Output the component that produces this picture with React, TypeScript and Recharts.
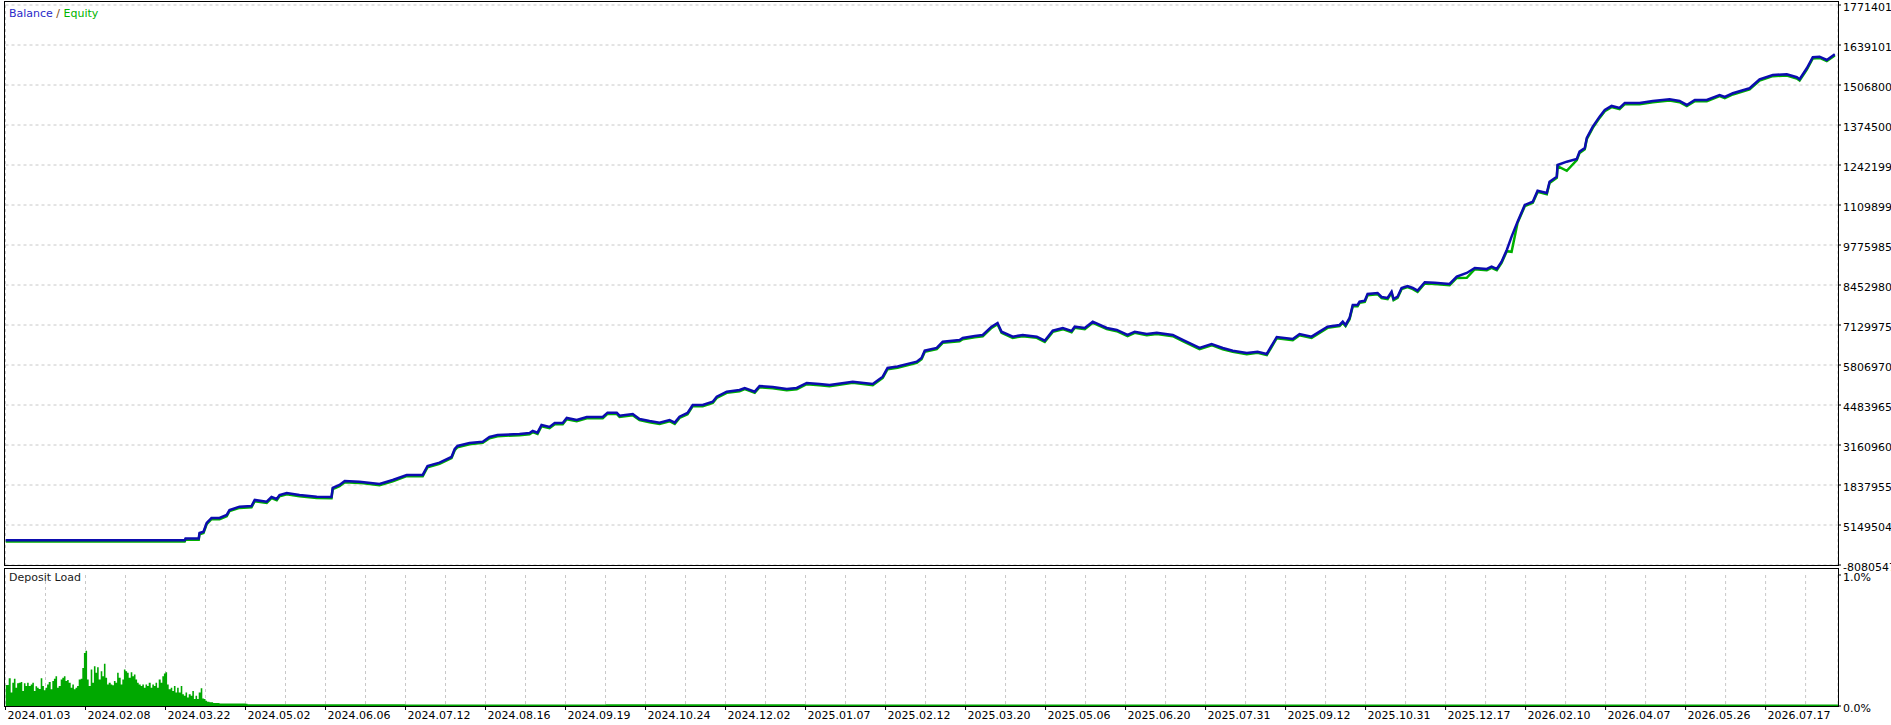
import React from 'react';
import { LineChart, Line, XAxis, YAxis, CartesianGrid, AreaChart, Area } from 'recharts';

const FONT = '"DejaVu Sans", Verdana, sans-serif';

// ---- data -----------------------------------------------------------
const trades = [
  0, 448, 450, 483, 485, 495, 503, 515, 535, 553,
  560, 585, 615, 623, 653, 665, 678, 685, 703, 735,
  778, 815, 818, 835, 848, 885, 935, 968, 1003, 1043,
  1055, 1085, 1115, 1123, 1130, 1160, 1193, 1210, 1230, 1285,
  1310, 1318, 1330, 1340, 1360, 1373, 1393, 1403, 1428, 1453,
  1493, 1505, 1528, 1535, 1568, 1585, 1610, 1635, 1660, 1673,
  1685, 1705, 1718, 1743, 1768, 1778, 1803, 1835, 1848, 1873,
  1885, 1918, 1953, 1978, 2003, 2035, 2060, 2118, 2168, 2193,
  2205, 2230, 2278, 2290, 2298, 2328, 2343, 2385, 2393, 2423,
  2443, 2465, 2480, 2490, 2518, 2543, 2578, 2598, 2618, 2643,
  2665, 2673, 2698, 2718, 2753, 2778, 2805, 2823, 2853, 2878,
  2918, 2943, 2985, 3015, 3043, 3068, 3103, 3130, 3153, 3178,
  3218, 3235, 3265, 3285, 3305, 3335, 3343, 3350, 3360, 3368,
  3380, 3385, 3398, 3405, 3430, 3440, 3455, 3465, 3470, 3480,
  3490, 3505, 3518, 3530, 3548, 3573, 3610, 3628, 3653, 3673,
  3703, 3715, 3728, 3740, 3753, 3765, 3780, 3798, 3818, 3830,
  3853, 3860, 3878, 3880, 3903, 3928, 3935, 3948, 3953, 3968,
  3985, 3998, 4015, 4035, 4048, 4085, 4118, 4160, 4185, 4203,
  4223, 4253, 4285, 4298, 4318, 4360, 4385, 4418, 4453, 4478,
  4485, 4503, 4518, 4535, 4553, 4573,
];

const balance = [
  100000, 100000, 650000, 650000, 2510000, 2940000, 5820000, 7470000, 7470000, 8470000,
  10120000, 11210000, 11440000, 13430000, 12870000, 14420000, 13760000, 15080000, 15740000, 15080000,
  14520000, 14420000, 17400000, 18390000, 19710000, 19480000, 18720000, 20040000, 21700000, 21700000,
  24670000, 25770000, 27650000, 30300000, 31290000, 32280000, 32710000, 34270000, 34930000, 35260000,
  35590000, 36250000, 35690000, 38230000, 37570000, 38900000, 38900000, 40550000, 39890000, 40880000,
  40880000, 42300000, 42300000, 41310000, 41870000, 40220000, 39560000, 39000000, 39890000, 39000000,
  40980000, 42200000, 44850000, 44850000, 45940000, 47590000, 49250000, 49810000, 50470000, 49250000,
  51130000, 50800000, 50140000, 50470000, 52130000, 51800000, 51470000, 52560000, 51800000, 54210000,
  57090000, 57580000, 59170000, 60400000, 62810000, 63700000, 65790000, 66350000, 67010000, 67670000,
  68000000, 70750000, 71970000, 69090000, 67440000, 68000000, 67440000, 66120000, 69420000, 70320000,
  69320000, 70750000, 70320000, 72400000, 70320000, 69650000, 68000000, 69090000, 68330000, 68760000,
  68000000, 66350000, 63700000, 65020000, 63700000, 62810000, 62050000, 62480000, 61720000, 67340000,
  66680000, 68330000, 67440000, 69090000, 70750000, 71310000, 72400000, 71310000, 73630000, 77920000,
  77920000, 79020000, 79350000, 81560000, 81890000, 80570000, 80240000, 82320000, 79910000, 80670000,
  83550000, 84210000, 83550000, 82650000, 85430000, 85300000, 84870000, 87280000, 88510000, 90160000,
  89830000, 90590000, 89830000, 92250000, 96120000, 100520000, 105480000, 111000000, 112090000, 115730000,
  114970000, 118710000, 120360000, 124230000, 125320000, 126210000, 128630000, 129850000, 133160000, 136900000,
  140210000, 142430000, 143750000, 143090000, 144740000, 144740000, 145400000, 145960000, 145400000, 144080000,
  145730000, 145730000, 147380000, 146720000, 147950000, 149600000, 152580000, 154000000, 154230000, 153240000,
  152580000, 156210000, 159850000, 160050000, 158960000, 160840000,
];

const equity = [
  -300000, -300000, 250000, 250000, 2110000, 2540000, 5420000, 7070000, 7070000, 8070000,
  9720000, 10810000, 11040000, 13030000, 12470000, 14020000, 13360000, 14680000, 15340000, 14680000,
  14120000, 14020000, 17000000, 17990000, 19310000, 19080000, 18320000, 19640000, 21300000, 21300000,
  24270000, 25370000, 27250000, 29900000, 30890000, 31880000, 32310000, 33870000, 34530000, 34860000,
  35190000, 35850000, 35290000, 37830000, 37170000, 38500000, 38500000, 40150000, 39490000, 40480000,
  40480000, 41900000, 41900000, 40910000, 41470000, 39820000, 39160000, 38600000, 39490000, 38600000,
  40580000, 41800000, 44450000, 44450000, 45540000, 47190000, 48850000, 49410000, 50070000, 48850000,
  50730000, 50400000, 49740000, 50070000, 51730000, 51400000, 51070000, 52160000, 51400000, 53810000,
  56690000, 57180000, 58770000, 60000000, 62410000, 63300000, 65390000, 65950000, 66610000, 67270000,
  67600000, 70350000, 71570000, 68690000, 67040000, 67600000, 67040000, 65720000, 69020000, 69920000,
  68920000, 70350000, 69920000, 72000000, 69920000, 69250000, 67600000, 68690000, 67930000, 68360000,
  67600000, 65950000, 63300000, 64620000, 63300000, 62410000, 61650000, 62080000, 61320000, 66940000,
  66280000, 67930000, 67040000, 68690000, 70350000, 70910000, 72000000, 70910000, 73230000, 77520000,
  77520000, 78620000, 78950000, 81160000, 81490000, 80170000, 79840000, 81920000, 79510000, 80270000,
  83150000, 83810000, 83150000, 82250000, 85030000, 84900000, 84470000, 86880000, 86900000, 89760000,
  89430000, 90190000, 89430000, 91850000, 95720000, 95500000, 105080000, 110600000, 111690000, 115330000,
  114570000, 118310000, 119960000, 123830000, 122300000, 125810000, 128230000, 129450000, 132760000, 136500000,
  139810000, 142030000, 143350000, 142690000, 144340000, 144340000, 145000000, 145560000, 145000000, 143680000,
  145330000, 145330000, 146980000, 146320000, 147550000, 149200000, 152180000, 153600000, 153830000, 152840000,
  152180000, 155810000, 159450000, 159650000, 158560000, 160440000,
];

const loadTrades = [
  0, 4, 8, 13, 17, 21, 25, 29, 33, 38, 42, 46,
  50, 54, 58, 63, 67, 71, 75, 79, 83, 88, 92, 96,
  100, 104, 108, 113, 117, 121, 125, 129, 133, 138, 142, 146,
  150, 154, 158, 163, 167, 171, 175, 179, 183, 188, 192, 196,
  200, 204, 208, 213, 217, 221, 225, 229, 233, 238, 242, 246,
  250, 254, 258, 263, 267, 271, 275, 279, 283, 288, 292, 296,
  300, 304, 308, 313, 317, 321, 325, 329, 333, 338, 342, 346,
  350, 354, 358, 363, 367, 371, 375, 379, 383, 388, 392, 396,
  400, 404, 408, 413, 417, 421, 425, 429, 433, 438, 442, 446,
  450, 454, 458, 463, 467, 471, 475, 479, 483, 488, 492, 496,
  500, 504, 510, 519,
  535, 600, 605, 1000, 1500, 2000, 2500, 3000, 3500, 4000, 4581,
];

const depositLoad = [
  0.160, 0.160, 0.211, 0.103, 0.178, 0.208, 0.140, 0.173, 0.178, 0.183, 0.115, 0.173,
  0.153, 0.178, 0.153, 0.165, 0.178, 0.115, 0.150, 0.140, 0.130, 0.211, 0.153, 0.120,
  0.140, 0.165, 0.183, 0.128, 0.190, 0.208, 0.228, 0.140, 0.153, 0.203, 0.216, 0.228,
  0.190, 0.198, 0.178, 0.140, 0.165, 0.128, 0.140, 0.153, 0.203, 0.208, 0.291, 0.404,
  0.421, 0.203, 0.153, 0.278, 0.178, 0.303, 0.253, 0.296, 0.203, 0.266, 0.228, 0.323,
  0.216, 0.165, 0.178, 0.165, 0.158, 0.190, 0.178, 0.253, 0.216, 0.165, 0.203, 0.278,
  0.266, 0.253, 0.216, 0.258, 0.228, 0.241, 0.203, 0.178, 0.165, 0.153, 0.165, 0.140,
  0.165, 0.153, 0.178, 0.140, 0.165, 0.153, 0.178, 0.140, 0.203, 0.178, 0.228, 0.248,
  0.258, 0.165, 0.128, 0.140, 0.115, 0.153, 0.103, 0.140, 0.103, 0.153, 0.090, 0.078,
  0.103, 0.065, 0.090, 0.078, 0.115, 0.053, 0.078, 0.053, 0.103, 0.135, 0.058, 0.053,
  0.040, 0.033, 0.028, 0.023,
  0.020, 0.018, 0.013, 0.012, 0.013, 0.012, 0.011, 0.012, 0.011, 0.012, 0.012,
];

const priceTicks = [
  -8080547, 5149504, 18379554, 31609605, 44839655, 58069706, 71299756, 84529807,
  97759857, 110989908, 124219958, 137450009, 150680059, 163910110, 177140160,
];

const loadTicks = [0, 1];

const gridTicks = [
  0, 100, 200, 300, 400, 500, 600, 700, 800, 900, 1000, 1100, 1200, 1300, 1400, 1500,
  1600, 1700, 1800, 1900, 2000, 2100, 2200, 2300, 2400, 2500, 2600, 2700, 2800, 2900,
  3000, 3100, 3200, 3300, 3400, 3500, 3600, 3700, 3800, 3900, 4000, 4100, 4200, 4300,
  4400, 4500,
];

const dateLabels = [
  '2024.01.03', '2024.02.08', '2024.03.22', '2024.05.02', '2024.06.06', '2024.07.12',
  '2024.08.16', '2024.09.19', '2024.10.24', '2024.12.02', '2025.01.07', '2025.02.12',
  '2025.03.20', '2025.05.06', '2025.06.20', '2025.07.31', '2025.09.12', '2025.10.31',
  '2025.12.17', '2026.02.10', '2026.04.07', '2026.05.26', '2026.07.17',
];

const X_MAX = 4581;

const lineData = trades.map((t, i) => ({ t, balance: balance[i], equity: equity[i] }));
const loadData = loadTrades.map((t, i) => ({ t, load: depositLoad[i] }));

// ---- ticks ----------------------------------------------------------
const PriceTick = (props: any) => {
  const { x, y, payload } = props;
  return (
    <text x={x} y={y + 5.5} fontSize={11} fontFamily={FONT} fill="#000" textAnchor="start">
      {String(payload.value)}
    </text>
  );
};

const LoadTick = (props: any) => {
  const { x, y, payload } = props;
  return (
    <text x={x} y={y + 5.5} fontSize={11} fontFamily={FONT} fill="#000" textAnchor="start">
      {Number(payload.value).toFixed(1) + '%'}
    </text>
  );
};

const DateTick = (props: any) => {
  const { x, y, payload } = props;
  const v = Number(payload.value);
  if (v % 200 !== 0) return <g />;
  const label = dateLabels[v / 200];
  if (!label) return <g />;
  return (
    <g>
      <line x1={x} x2={x} y1={y - 5} y2={y - 1} stroke="#000" strokeWidth={1} />
      <text x={x + 2} y={y + 8} fontSize={11} fontFamily={FONT} fill="#000" textAnchor="start">
        {label}
      </text>
    </g>
  );
};

export default function App() {
  return (
    <div
      style={{
        position: 'absolute',
        left: 0,
        top: 0,
        width: 1891,
        height: 725,
        overflow: 'hidden',
        background: '#fff',
        fontFamily: FONT,
      }}
    >
      <div style={{ position: 'absolute', left: 0, top: 0 }}>
        <LineChart
          width={1891}
          height={572}
          data={lineData}
          margin={{ top: 5, right: 3, bottom: 7, left: 5.5 }}
        >
          <CartesianGrid stroke="#c8c8c8" strokeDasharray="3 3" />
          <XAxis
            dataKey="t"
            type="number"
            domain={[0, X_MAX]}
            allowDataOverflow
            ticks={gridTicks}
            interval={0}
            height={0}
            tick={false}
            axisLine={false}
            tickLine={false}
          />
          <YAxis
            orientation="right"
            width={50}
            type="number"
            domain={[-8080547, 177140160]}
            allowDataOverflow
            ticks={priceTicks}
            interval={0}
            tickSize={3}
            tickLine={{ stroke: '#000' }}
            axisLine={false}
            tick={<PriceTick />}
          />
          <Line
            dataKey="equity"
            type="linear"
            stroke="#00b000"
            strokeWidth={2.5}
            dot={false}
            activeDot={false}
            isAnimationActive={false}
          />
          <Line
            dataKey="balance"
            type="linear"
            stroke="#0c0cb0"
            strokeWidth={2.5}
            dot={false}
            activeDot={false}
            isAnimationActive={false}
          />
        </LineChart>
      </div>

      <div style={{ position: 'absolute', left: 0, top: 567 }}>
        <AreaChart
          width={1891}
          height={158}
          data={loadData}
          margin={{ top: 8, right: 3, bottom: 0, left: 5.5 }}
        >
          <CartesianGrid stroke="#c8c8c8" strokeDasharray="3 3" horizontal={false} />
          <XAxis
            dataKey="t"
            type="number"
            domain={[0, X_MAX]}
            allowDataOverflow
            ticks={gridTicks}
            interval={0}
            height={19}
            tickSize={3}
            tickLine={false}
            axisLine={false}
            tick={<DateTick />}
          />
          <YAxis
            orientation="right"
            width={50}
            type="number"
            domain={[0, 1]}
            allowDataOverflow
            ticks={loadTicks}
            interval={0}
            tickSize={3}
            tickLine={{ stroke: '#000' }}
            axisLine={false}
            tick={<LoadTick />}
          />
          <Area
            dataKey="load"
            type="stepAfter"
            stroke="none"
            fill="#00a800"
            fillOpacity={1}
            isAnimationActive={false}
            dot={false}
            activeDot={false}
          />
        </AreaChart>
      </div>

      {/* panel frames */}
      <div
        style={{
          position: 'absolute',
          left: 4,
          top: 1,
          width: 1835,
          height: 565,
          border: '1px solid #000',
          boxSizing: 'border-box',
          pointerEvents: 'none',
        }}
      />
      <div
        style={{
          position: 'absolute',
          left: 4,
          top: 568,
          width: 1835,
          height: 139,
          border: '1px solid #000',
          boxSizing: 'border-box',
          pointerEvents: 'none',
        }}
      />

      {/* panel titles */}
      <svg
        width={1891}
        height={725}
        style={{ position: 'absolute', left: 0, top: 0, pointerEvents: 'none' }}
      >
        <text x={9} y={17} fontSize={11} fontFamily={FONT}>
          <tspan fill="#2a2ac8">Balance</tspan>
          <tspan fill="#7a4a10"> / </tspan>
          <tspan fill="#00b400">Equity</tspan>
        </text>
        <text x={9} y={581} fontSize={11} fontFamily={FONT} fill="#1a1a1a">
          Deposit Load
        </text>
      </svg>
    </div>
  );
}
